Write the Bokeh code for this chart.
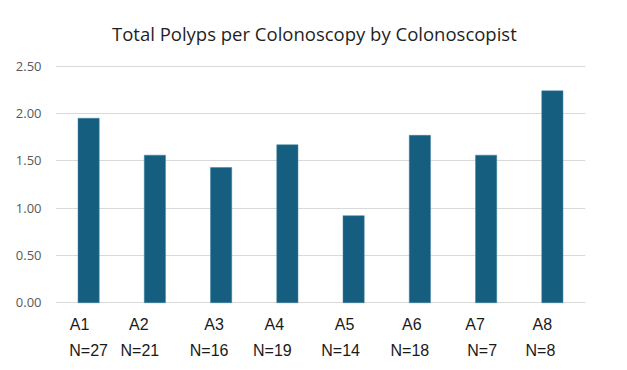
from bokeh.plotting import figure
from bokeh.models import Range1d, FixedTicker, ColumnDataSource
from bokeh.core.properties import value
from bokeh.embed import file_html
from bokeh.resources import INLINE

# ---- data ----
colonoscopists = ["A1", "A2", "A3", "A4", "A5", "A6", "A7", "A8"]
polyps_per_colonoscopy = [1.95, 1.56, 1.43, 1.67, 0.92, 1.77, 1.56, 2.24]
n_labels = ["N=27", "N=21", "N=16", "N=19", "N=14", "N=18", "N=7", "N=8"]
y_ticks = [0.0, 0.5, 1.0, 1.5, 2.0, 2.5]
y_tick_labels = {0.0: "0.00", 0.5: "0.50", 1.0: "1.00", 1.5: "1.50", 2.0: "2.00", 2.5: "2.50"}
title_text = "Total Polyps per Colonoscopy by Colonoscopist"

# ---- layout tweaks (pixel offsets of the free-floating text boxes) ----
name_dx = [-9, -16, -7, -13, -9, -8, -11, -10]
n_dx = [0, -15, -12, -15, -13, -10, -4, -12]

src = ColumnDataSource(dict(x=colonoscopists, top=polyps_per_colonoscopy,
                            n=n_labels, zero=[0] * len(colonoscopists),
                            ndx=name_dx, ndx2=n_dx))

p = figure(x_range=colonoscopists, y_range=Range1d(-0.6, 3.1),
           width=611, height=362, output_backend="svg", toolbar_location=None,
           min_border_left=55, min_border_right=26, min_border_top=9, min_border_bottom=3)
p.outline_line_color = None
p.background_fill_color = "white"
p.border_fill_color = "white"

# title drawn as text above the top gridline, centred over the chart
p.text(x=[colonoscopists[3]], y=[y_ticks[-1]], text=[title_text], x_offset=27, y_offset=-33,
       text_align="center", text_baseline="middle",
       text_font=value("Open Sans"), text_font_size="18.5px", text_color="#1f1f1f")

p.vbar(x="x", top="top", bottom=0, width=0.32, source=src,
       fill_color="#165e80", line_color="#3a7fa0", line_width=0.5)

p.text(x="x", y="zero", text="x", source=src, x_offset="ndx", y_offset=22,
       text_align="center", text_baseline="middle",
       text_font=value("Liberation Sans"), text_font_size="16px", text_color="#1a1a1a")
p.text(x="x", y="zero", text="n", source=src, x_offset="ndx2", y_offset=48,
       text_align="center", text_baseline="middle",
       text_font=value("Liberation Sans"), text_font_size="16px", text_color="#1a1a1a")

p.xaxis.visible = False
p.xgrid.grid_line_color = None
p.yaxis.ticker = FixedTicker(ticks=y_ticks)
p.yaxis.major_label_overrides = y_tick_labels
p.yaxis.axis_line_color = None
p.yaxis.major_tick_line_color = None
p.yaxis.minor_tick_line_color = None
p.yaxis.major_tick_out = 0
p.yaxis.major_tick_in = 0
p.yaxis.major_label_standoff = 14
p.yaxis.major_label_text_font = "Open Sans"
p.yaxis.major_label_text_font_size = "13px"
p.yaxis.major_label_text_color = "#595959"
p.ygrid.ticker = FixedTicker(ticks=y_ticks)
p.ygrid.grid_line_color = "#d9d9d9"
p.ygrid.grid_line_width = 1

open("out.html", "w").write(file_html(p, INLINE))
